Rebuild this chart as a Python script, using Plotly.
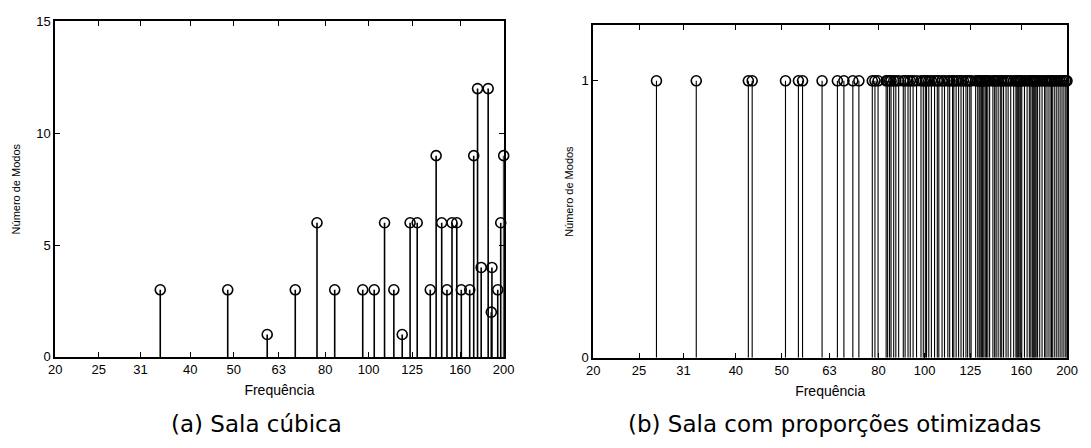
import plotly.graph_objects as go

# Third-octave labels used on both frequency axes
tick_vals = [20, 25, 31, 40, 50, 63, 80, 100, 125, 160, 200]
tick_text = ["20", "25", "31", "40", "50", "63", "80", "100", "125", "160", "200"]

# (a) cubic room: mode frequencies (Hz) and number of coincident modes
freq_cubic = [34.3, 48.5, 59.4, 68.6, 76.7, 84.0, 97.0, 102.9, 108.5, 113.8,
              118.8, 123.7, 128.3, 137.2, 141.4, 145.5, 149.5, 153.4, 157.2, 160.9,
              168.0, 171.5, 174.9, 178.2, 184.7, 188.3, 187.7, 194.0, 197.0, 200.0]
modes_cubic = [3, 3, 1, 3, 6, 3, 3, 3, 6, 3,
               1, 6, 6, 3, 9, 6, 3, 6, 6, 3,
               3, 9, 12, 4, 12, 4, 2, 3, 6, 9]

# (b) room with optimised proportions: every mode is isolated (one mode each)
freq_opt = [27.2, 33.0, 42.5, 43.3, 50.9, 54.2, 55.3, 60.8, 65.5, 67.6,
            70.6, 72.7, 77.6, 78.6, 79.8,
            83.0, 83.6, 84.4, 85.0, 86.1, 87.0, 88.2, 90.2, 91.0, 92.3,
            93.3, 94.6, 96.2, 98.3, 99.4,
            100.4, 101.0, 102.1, 103.4, 105.0, 106.4, 107.2, 108.9, 110.2, 112.0,
            113.0, 114.6, 115.3, 116.6, 118.0, 119.4, 120.8, 122.3, 123.3, 124.6,
            125.4, 128.2, 129.5, 130.4, 131.0, 131.8, 132.6, 133.4, 134.3, 135.1,
            136.0, 137.2, 139.4, 140.6, 141.6, 143.0, 144.5, 145.5, 146.8, 148.6,
            150.1, 152.0, 154.2, 155.9, 156.6, 157.3, 158.0, 158.9, 159.6, 160.4,
            162.5, 164.6, 166.4, 167.6, 168.8, 169.6, 170.4, 171.2, 172.0, 173.2,
            175.0, 177.0, 179.2, 180.4, 182.2, 184.0, 185.3, 186.0, 187.8, 189.6,
            191.4, 193.2, 195.0, 196.8, 198.6, 199.8]
modes_opt = [1] * len(freq_opt)

W, H = 1091, 448
INK = "black"
SANS = "Liberation Sans, Arial, sans-serif"
TICK_FONT = dict(family=SANS, size=13, color=INK)
CAPTION_FONT = dict(family="DejaVu Sans, sans-serif", size=23, color=INK)


def stem_xy(xs, ys):
    sx, sy = [], []
    for x, y in zip(xs, ys):
        sx += [x, x, None]
        sy += [0, y, None]
    return sx, sy


fig = go.Figure()

for xs, ys, xa, ya, lw in [(freq_cubic, modes_cubic, "x", "y", 1.6),
                           (freq_opt, modes_opt, "x2", "y2", 1.1)]:
    sx, sy = stem_xy(xs, ys)
    fig.add_trace(go.Scatter(x=sx, y=sy, mode="lines", xaxis=xa, yaxis=ya,
                             line=dict(color=INK, width=lw),
                             hoverinfo="skip", showlegend=False))
    fig.add_trace(go.Scatter(x=xs, y=ys, mode="markers", xaxis=xa, yaxis=ya,
                             marker=dict(symbol="circle-open", size=10,
                                         color=INK, line=dict(width=1.6)),
                             cliponaxis=False, showlegend=False))


def px_dom_x(a, b):
    return [a / W, b / W]


def px_dom_y(top, bottom):
    return [(H - bottom) / H, (H - top) / H]


x_common = dict(type="log", range=[1.30103, 2.30103], tickvals=tick_vals,
                ticktext=tick_text, ticks="inside", ticklen=5, tickcolor=INK,
                showline=True, linecolor=INK, linewidth=1.5, mirror="ticks",
                showgrid=False, zeroline=False, tickfont=TICK_FONT,
                title=dict(text="Frequência", standoff=9,
                           font=dict(family=SANS, size=14, color=INK)))
y_common = dict(ticks="inside", ticklen=5, tickcolor=INK, showline=True,
                linecolor=INK, linewidth=1.5, mirror="ticks", showgrid=False,
                zeroline=False, tickfont=TICK_FONT,
                title=dict(font=dict(family=SANS, size=11, color=INK)))

fig.update_layout(
    width=W, height=H, margin=dict(l=0, r=0, t=0, b=0),
    paper_bgcolor="white", plot_bgcolor="white",
    xaxis=dict(x_common, domain=px_dom_x(49, 505), anchor="y"),
    yaxis=dict(y_common, domain=px_dom_y(15, 362), anchor="x",
               range=[0, 15], tickvals=[0, 5, 10, 15],
               title=dict(text="Número de Modos", standoff=14,
                          font=dict(family=SANS, size=11, color=INK))),
    xaxis2=dict(x_common, domain=px_dom_x(596, 1078), anchor="y2"),
    yaxis2=dict(y_common, domain=px_dom_y(19, 363), anchor="x2",
                range=[0, 1.2], tickvals=[0, 1],
                title=dict(text="Número de Modos", standoff=6,
                           font=dict(family=SANS, size=11, color=INK))),
    annotations=[
        dict(text="(a) Sala cúbica", xref="paper", yref="paper",
             x=254 / W, y=(H - 431) / H, xanchor="center", yanchor="middle",
             showarrow=False, font=CAPTION_FONT),
        dict(text="(b) Sala com proporções otimizadas", xref="paper", yref="paper",
             x=841 / W, y=(H - 431) / H, xanchor="center", yanchor="middle",
             showarrow=False, font=CAPTION_FONT),
    ],
)

fig.write_html("out.html")
